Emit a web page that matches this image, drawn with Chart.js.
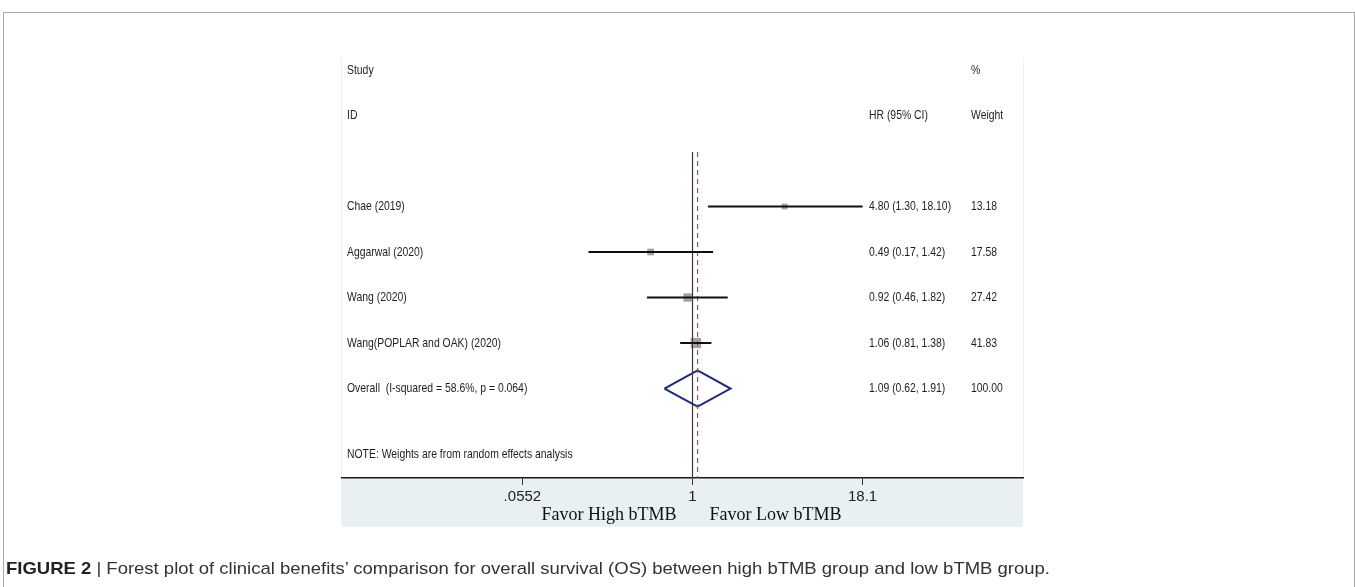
<!DOCTYPE html>
<html>
<head>
<meta charset="utf-8">
<script src="https://cdn.jsdelivr.net/npm/chart.js@4.4.0/dist/chart.umd.min.js"></script>
<style>
  html, body { margin: 0; padding: 0; background: #fff; width: 1355px; height: 587px; overflow: hidden; }
  #frame { position: absolute; left: 3px; top: 12px; width: 1350px; height: 600px; border: 1px solid #a9a9a9; border-bottom: none; }
  #plot { position: absolute; left: 0; top: 0; }
  #caption { position: absolute; left: 6px; top: 559px; font-family: "Liberation Sans", Arial, sans-serif; font-size: 17px; color: #333; white-space: nowrap; transform-origin: 0 50%; }
  #caption b { color: #222; }
</style>
</head>
<body>
<div id="frame"></div>
<canvas id="plot" width="1355" height="587"></canvas>
<div id="caption"><b>FIGURE 2</b> | Forest plot of clinical benefits’ comparison for overall survival (OS) between high bTMB group and low bTMB group.</div>
<script>
// Study-level hazard ratios with 95% confidence intervals
const studies = ['Chae (2019)', 'Aggarwal (2020)', 'Wang (2020)', 'Wang(POPLAR and OAK) (2020)'];
const hr = [4.80, 0.49, 0.92, 1.06];
const ciLow = [1.30, 0.17, 0.46, 0.81];
const ciHigh = [18.10, 1.42, 1.82, 1.38];
const weights = [13.18, 17.58, 27.42, 41.83];

// Pooled (random effects) estimate
const overallLabel = 'Overall  (I-squared = 58.6%, p = 0.064)';
const overallHR = 1.09;
const overallLow = 0.62;
const overallHigh = 1.91;
const overallWeight = 100.00;

// Axis ticks
const tickValues = [0.0552, 1, 18.1];
const tickLabels = ['.0552', '1', '18.1'];

const noteText = 'NOTE: Weights are from random effects analysis';
const favorLeft = 'Favor High bTMB';
const favorRight = 'Favor Low bTMB';

// Row layout (row units, top to bottom)
const firstStudyRow = 3;
const overallRow = firstStudyRow + studies.length;
const noteRow = overallRow + 1.45;
const refLineTop = 1.8;
const yMin = -0.264, yMax = 8.967;
const xMin = 0.002558, xMax = 278;

const fmt = v => v.toFixed(2);
const studyRows = studies.map((_, i) => firstStudyRow + i);

const datasets = [];
// confidence interval whiskers
studies.forEach((s, i) => {
  datasets.push({
    data: [{ x: ciLow[i], y: studyRows[i] }, { x: ciHigh[i], y: studyRows[i] }],
    showLine: true, borderColor: '#111', borderWidth: 2, pointRadius: 0
  });
});
// null line (HR = 1)
datasets.push({
  data: [{ x: 1, y: refLineTop }, { x: 1, y: yMax }],
  showLine: true, borderColor: '#3a3a3a', borderWidth: 1.2, pointRadius: 0
});
// pooled estimate line
datasets.push({
  data: [{ x: overallHR, y: refLineTop }, { x: overallHR, y: yMax }],
  showLine: true, borderColor: '#a4514f', borderWidth: 1.2, borderDash: [5, 4], pointRadius: 0
});
// weight boxes
datasets.push({
  data: hr.map((v, i) => ({ x: v, y: studyRows[i] })),
  pointStyle: 'rect',
  pointRadius: weights.map(w => 1.6 * Math.sqrt(w) / Math.SQRT2),
  backgroundColor: '#a3a3a3', borderColor: '#a3a3a3', borderWidth: 0
});
// point estimates
datasets.push({
  data: hr.map((v, i) => ({ x: v, y: studyRows[i] })),
  pointStyle: 'circle', pointRadius: 2,
  backgroundColor: '#000', borderColor: '#000', borderWidth: 0
});
// pooled diamond
const dh = 0.4;
datasets.push({
  data: [
    { x: overallLow, y: overallRow }, { x: overallHR, y: overallRow - dh },
    { x: overallHigh, y: overallRow }, { x: overallHR, y: overallRow + dh },
    { x: overallLow, y: overallRow }
  ],
  showLine: true, borderColor: '#1f2a78', borderWidth: 2, pointRadius: 0, tension: 0
});

const textFont = '13px "Liberation Sans", Arial, sans-serif';
function narrowText(ctx, text, x, y, align, sx) {
  ctx.save();
  ctx.translate(x, y);
  ctx.scale(sx, 1);
  ctx.textAlign = align;
  ctx.fillText(text, 0, 0);
  ctx.restore();
}

const tablePlugin = {
  id: 'forestTable',
  beforeDraw(chart) {
    const { ctx, chartArea: a } = chart;
    ctx.save();
    ctx.fillStyle = '#e8f0f3';
    ctx.fillRect(a.left - 1, a.bottom, a.right - a.left + 1, 49);
    ctx.strokeStyle = '#f0f0f0';
    ctx.lineWidth = 1;
    ctx.beginPath();
    ctx.moveTo(a.left - 0.5, a.top); ctx.lineTo(a.left - 0.5, a.bottom);
    ctx.moveTo(a.right + 0.5, a.top); ctx.lineTo(a.right + 0.5, a.bottom);
    ctx.stroke();
    ctx.restore();
  },
  afterDraw(chart) {
    const { ctx, chartArea: a } = chart;
    const ys = chart.scales.y, xs = chart.scales.x;
    const colLabel = a.left + 5;
    const colHR = 869;
    const colW = 971;
    const sx = 0.8;
    ctx.save();
    ctx.fillStyle = '#1e1e1e';
    ctx.font = textFont;
    ctx.textBaseline = 'middle';
    narrowText(ctx, 'Study', colLabel, ys.getPixelForValue(0), 'left', sx);
    narrowText(ctx, '%', colW, ys.getPixelForValue(0), 'left', sx);
    narrowText(ctx, 'ID', colLabel, ys.getPixelForValue(1), 'left', sx);
    narrowText(ctx, 'HR (95% CI)', colHR, ys.getPixelForValue(1), 'left', sx);
    narrowText(ctx, 'Weight', colW, ys.getPixelForValue(1), 'left', sx);
    studies.forEach((s, i) => {
      const y = ys.getPixelForValue(studyRows[i]);
      narrowText(ctx, s, colLabel, y, 'left', sx);
      narrowText(ctx, `${fmt(hr[i])} (${fmt(ciLow[i])}, ${fmt(ciHigh[i])})`, colHR, y, 'left', sx);
      narrowText(ctx, fmt(weights[i]), colW, y, 'left', sx);
    });
    const yo = ys.getPixelForValue(overallRow);
    narrowText(ctx, overallLabel, colLabel, yo, 'left', sx);
    narrowText(ctx, `${fmt(overallHR)} (${fmt(overallLow)}, ${fmt(overallHigh)})`, colHR, yo, 'left', sx);
    narrowText(ctx, fmt(overallWeight), colW, yo, 'left', sx);
    narrowText(ctx, noteText, colLabel, ys.getPixelForValue(noteRow), 'left', sx);

    // direction labels under the axis
    const x1 = xs.getPixelForValue(1);
    ctx.font = '18px "Liberation Serif", "Times New Roman", serif';
    ctx.fillStyle = '#111';
    ctx.textBaseline = 'middle';
    ctx.textAlign = 'right';
    ctx.fillText(favorLeft, x1 - 16, a.bottom + 37);
    ctx.textAlign = 'left';
    ctx.fillText(favorRight, x1 + 17, a.bottom + 37);
    ctx.restore();
  }
};

new Chart(document.getElementById('plot'), {
  type: 'scatter',
  data: { datasets },
  options: {
    responsive: false,
    animation: false,
    devicePixelRatio: 1,
    layout: { padding: { left: 342, right: 332, top: 58, bottom: 60 } },
    plugins: { legend: { display: false }, tooltip: { enabled: false } },
    scales: {
      x: {
        type: 'logarithmic',
        position: 'bottom',
        min: xMin, max: xMax,
        bounds: 'data',
        afterBuildTicks: s => { s.ticks = tickValues.map(v => ({ value: v })); },
        afterFit: s => { s.height = 49; },
        grid: { display: true, drawOnChartArea: false, drawTicks: true, tickLength: 7, color: '#333', lineWidth: 1 },
        border: { display: true, color: '#1a1a1a', width: 1.5 },
        ticks: {
          autoSkip: false, maxRotation: 0, padding: 3,
          color: '#222',
          font: { family: '"Liberation Sans", Arial, sans-serif', size: 15 },
          callback: (v, i) => tickLabels[i]
        }
      },
      y: {
        type: 'linear', reverse: true, display: false,
        min: yMin, max: yMax
      }
    }
  },
  plugins: [tablePlugin]
});

// fit the caption to its line width
const cap = document.getElementById('caption');
cap.style.transform = `scaleX(${1044 / cap.scrollWidth})`;
</script>
</body>
</html>
